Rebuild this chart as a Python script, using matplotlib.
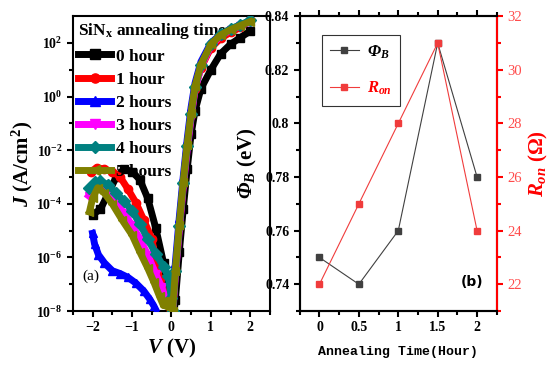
import matplotlib
matplotlib.use('Agg')
import matplotlib.pyplot as plt
from matplotlib.ticker import MultipleLocator, FixedLocator, NullFormatter, FuncFormatter
import numpy as np

plt.rcParams['font.family'] = 'Liberation Serif'
plt.rcParams['font.weight'] = 'bold'
plt.rcParams['mathtext.fontset'] = 'custom'
plt.rcParams['mathtext.rm'] = 'Liberation Serif:bold'
plt.rcParams['mathtext.it'] = 'Liberation Serif:italic:bold'
plt.rcParams['mathtext.bf'] = 'Liberation Serif:bold'
# \mathsf used for the italic Greek Phi (mathtext keeps capital Greek upright in \mathit)
plt.rcParams['mathtext.sf'] = 'Liberation Serif:italic:bold'

# ---- (a) J-V data, reverse branch per curve + shared forward voltage grid
labels = ['0 hour', '1 hour', '2 hours', '3 hours', '4 hours', '5 hours']
colors = ['#000000', '#ff0000', '#0000ff', '#ff00ff', '#008080', '#808000']
markers = ['s', 'o', '^', 'v', 'D', '<']

v_rev_0h = [-2.0, -1.8, -1.6, -1.4, -1.2, -1.0, -0.8, -0.6, -0.4, -0.2, 0.0]
j_rev_0h = [4e-5, 6.3e-5, 2.5e-4, 1e-3, 2e-3, 1.6e-3, 8e-4, 1.6e-4, 1.3e-5, 6.3e-7, 1.3e-8]
v_rev_1h = [-2.05, -1.9, -1.7, -1.5, -1.3, -1.1, -0.9, -0.7, -0.5, -0.3, -0.15, 0.0]
j_rev_1h = [1.6e-3, 2.2e-3, 2.0e-3, 1.6e-3, 1.0e-3, 3.5e-4, 1.1e-4, 2.5e-5, 5e-6, 1.6e-7, 4e-8, 1e-8]
v_rev_2h = [-2.0, -1.95, -1.85, -1.7, -1.5, -1.3, -1.1, -0.9, -0.7, -0.55, -0.45, -0.38]
j_rev_2h = [7.9e-6, 3.2e-6, 1.26e-6, 6.3e-7, 3.2e-7, 2.5e-7, 1.8e-7, 1.1e-7, 5.6e-8, 2.8e-8, 1.6e-8, 1e-8]
v_rev_3h = [-2.1, -1.95, -1.8, -1.6, -1.4, -1.2, -1.0, -0.8, -0.6, -0.4, -0.25, -0.1]
j_rev_3h = [2e-4, 4e-4, 4e-4, 2.5e-4, 1.1e-4, 4.5e-5, 1.6e-5, 5e-6, 1.26e-6, 2.5e-7, 8e-8, 2e-8]
v_rev_4h = [-2.08, -1.95, -1.8, -1.6, -1.4, -1.2, -1.0, -0.8, -0.6, -0.4, -0.2, -0.08, 0.0]
j_rev_4h = [4e-4, 6.3e-4, 7e-4, 5e-4, 2.5e-4, 1.26e-4, 5.6e-5, 1.8e-5, 5e-6, 1.4e-6, 4.5e-7, 2e-7, 3e-8]
v_rev_5h = [-2.08, -2.0, -1.87, -1.7, -1.5, -1.25, -1.0, -0.8, -0.6, -0.45, -0.3, -0.2, -0.1, 0.0]
j_rev_5h = [5e-5, 1.6e-4, 4e-4, 2.5e-4, 1e-4, 2.5e-5, 7e-6, 1.6e-6, 4e-7, 1.26e-7, 3.5e-8, 1.6e-8, 2.5e-8, 1.3e-8]

v_fwd = [0.03, 0.1, 0.2, 0.3, 0.4, 0.5, 0.6, 0.75, 1.0, 1.25, 1.5, 1.75, 2.0]
j_fwd_0h = [3e-9, 2.5e-8, 1.6e-6, 6.3e-5, 2e-3, 4e-2, 0.3, 2.0, 10, 40, 90, 160, 280]
j_fwd_1h = [1e-8, 3e-7, 1.4e-5, 5.5e-4, 1.4e-2, 0.2, 2.0, 12, 65, 150, 250, 380, 700]
j_fwd_2h = [1.6e-8, 6e-7, 3e-5, 1e-3, 2.5e-2, 0.4, 3.2, 20, 100, 210, 330, 460, 640]
j_fwd_3h = [6e-9, 2e-7, 1e-5, 4e-4, 1e-2, 0.16, 1.8, 13, 80, 190, 300, 440, 620]
j_fwd_4h = [1e-8, 3e-7, 1.5e-5, 6e-4, 1.5e-2, 0.23, 2.3, 15, 90, 210, 340, 480, 700]
j_fwd_5h = [1e-8, 3.2e-7, 1.6e-5, 6.3e-4, 1.6e-2, 0.25, 2.5, 16, 89, 200, 316, 450, 630]

v_rev = [v_rev_0h, v_rev_1h, v_rev_2h, v_rev_3h, v_rev_4h, v_rev_5h]
j_rev = [j_rev_0h, j_rev_1h, j_rev_2h, j_rev_3h, j_rev_4h, j_rev_5h]
j_fwd = [j_fwd_0h, j_fwd_1h, j_fwd_2h, j_fwd_3h, j_fwd_4h, j_fwd_5h]

# ---- (b) barrier height and on-resistance vs annealing time
anneal_time = [0, 0.5, 1, 1.5, 2]
phi_b = [0.75, 0.74, 0.76, 0.83, 0.78]
r_on = [22, 25, 28, 31, 24]

fig = plt.figure(figsize=(5.52, 3.69), dpi=100)
ax1 = fig.add_axes((0.132, 0.157, 0.357, 0.799))
ax2 = fig.add_axes((0.543, 0.157, 0.357, 0.799))
ax3 = ax2.twinx()

# panel (a)
for i in range(6):
    ax1.plot(v_rev[i], j_rev[i], color=colors[i], marker=markers[i], ms=6,
             lw=5, label=labels[i], zorder=2 + i)
    ax1.plot(v_fwd, j_fwd[i], color=colors[i], marker=markers[i], ms=6, lw=5, zorder=2 + i)
ax1.set_yscale('log')
ax1.set_xlim(-2.5, 2.5)
ax1.set_ylim(1e-8, 1e3)
ax1.xaxis.set_major_locator(MultipleLocator(1))
ax1.xaxis.set_minor_locator(MultipleLocator(0.5))
ax1.yaxis.set_major_locator(FixedLocator([10.0 ** k for k in range(-8, 3, 2)]))
ax1.yaxis.set_minor_locator(FixedLocator([10.0 ** k for k in range(-7, 3, 2)]))
ax1.yaxis.set_minor_formatter(NullFormatter())
ax1.tick_params(which='both', direction='out', width=1.5, labelsize=10)
ax1.tick_params(which='major', length=4)
ax1.tick_params(which='minor', length=3)
for s in ax1.spines.values():
    s.set_linewidth(1.5)
ax1.set_xlabel(r'$V$ $\mathrm{(V)}$', fontsize=15, labelpad=2)
ax1.set_ylabel(r'$J$ $\mathrm{(A/cm^{2})}$', fontsize=15, labelpad=1)
ax1.text(0.05, 0.105, '(a)', transform=ax1.transAxes, fontsize=11, fontweight='normal')
leg1 = ax1.legend(loc='upper left', frameon=False, fontsize=12.5, handlelength=1.9,
                  handletextpad=0.3, labelspacing=0.4, borderaxespad=0.1, borderpad=0.2,
                  title=r'SiN$_{\mathrm{x}}$ annealing time', markerscale=1.1,
                  title_fontproperties={'weight': 'bold', 'size': 12.5}, alignment='left')

# panel (b)
gray = '#404040'
red = '#f03c3c'
l1, = ax2.plot(anneal_time, phi_b, color=gray, lw=0.8, marker='s', ms=5, label=r'$\mathsf{Φ}_B$')
l2, = ax3.plot(anneal_time, r_on, color=red, lw=0.8, marker='s', ms=5, label=r'$R_{on}$')
ax2.set_xlim(-0.25, 2.25)
ax2.set_ylim(0.73, 0.84)
ax3.set_ylim(21, 32)
ax2.xaxis.set_major_locator(MultipleLocator(0.5))
ax2.xaxis.set_minor_locator(MultipleLocator(0.25))
ax2.yaxis.set_major_locator(MultipleLocator(0.02))
ax2.yaxis.set_minor_locator(MultipleLocator(0.01))
ax3.yaxis.set_major_locator(MultipleLocator(2))
ax3.yaxis.set_minor_locator(MultipleLocator(1))
ax2.xaxis.set_major_formatter(FuncFormatter(lambda v, p: '%g' % v))
ax2.yaxis.set_major_formatter(FuncFormatter(lambda v, p: '%g' % round(v, 2)))
ax2.tick_params(which='both', direction='out', width=1.5, labelsize=10)
ax2.tick_params(which='major', length=4)
ax2.tick_params(which='minor', length=3)
ax2.tick_params(axis='x', which='both', top=True)
ax3.tick_params(which='both', direction='out', width=1.5, colors='red', labelsize=10.5,
                labelcolor='#ff4c4c')
ax3.tick_params(which='major', length=4)
ax3.tick_params(which='minor', length=3)
for lab in ax3.get_yticklabels():
    lab.set_fontweight('normal')
for s in ax2.spines.values():
    s.set_linewidth(1.5)
for s in ax3.spines.values():
    s.set_linewidth(1.5)
ax3.spines['right'].set_color('red')
ax2.set_xlabel('Annealing Time(Hour)', family='Liberation Mono', fontweight='bold',
               fontsize=9.5, labelpad=8)
ax2.set_ylabel(r'$\mathsf{Φ}_B$ $\mathrm{(eV)}$', fontsize=15, labelpad=4)
ax3.set_ylabel(r'$R_{on}$ $\mathrm{(Ω)}$', fontsize=15, color='red', labelpad=4)
ax2.text(0.93, 0.085, '(b)', transform=ax2.transAxes, fontsize=10, ha='right',
         family='DejaVu Sans')
leg2 = ax2.legend([l1, l2], [l1.get_label(), l2.get_label()], loc='upper left',
                  bbox_to_anchor=(0.07, 0.965), fontsize=12, fancybox=False,
                  edgecolor='black', handlelength=1.7, handletextpad=0.5,
                  labelspacing=1.15, borderpad=0.5)
leg2.get_frame().set_linewidth(0.8)
leg2.get_texts()[1].set_color('red')

fig.savefig('out.png', dpi=100)
